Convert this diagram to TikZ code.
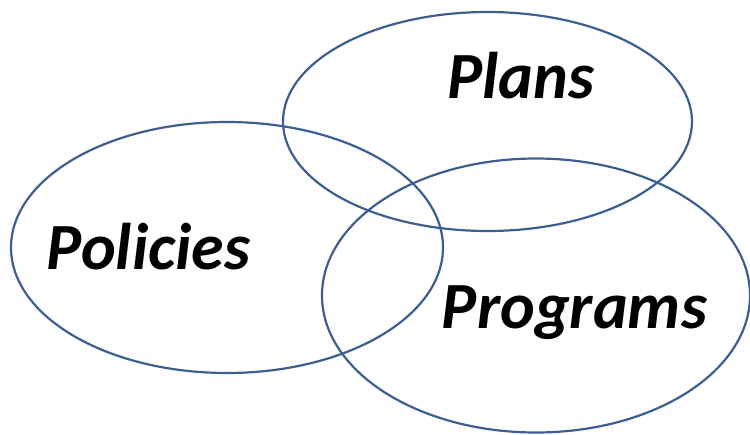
\documentclass[tikz,border=0pt]{standalone}
\usepackage{fontspec}
\setmainfont{Carlito}
\usepackage{tikz}
\usetikzlibrary{positioning}
\definecolor{ringblue}{HTML}{3B5F91}

\begin{document}
\begin{tikzpicture}[x=1pt, y=1pt]
\tikzstyle{every node}+=[inner sep=0pt]
\tikzstyle{ring}=[ringblue, line width=2.2pt]
\tikzstyle{word}=[anchor=base, font=\fontsize{66}{66}\selectfont\bfseries\itshape]
\useasboundingbox (0,0) rectangle (750,-434);
\draw [ring] (487.5,-121.5) ellipse (204.5 and 109.5);
\draw [ring] (227,-247.5) ellipse (216 and 125.5);
\draw [ring] (536,-295.5) ellipse (214 and 137);
\node [word] (plans) at (521,-98) {Plans};
\node [word] (policies) at (148.5,-269) {Policies};
\node [word] (programs) at (574.5,-328) {Programs};
\end{tikzpicture}
\end{document}
